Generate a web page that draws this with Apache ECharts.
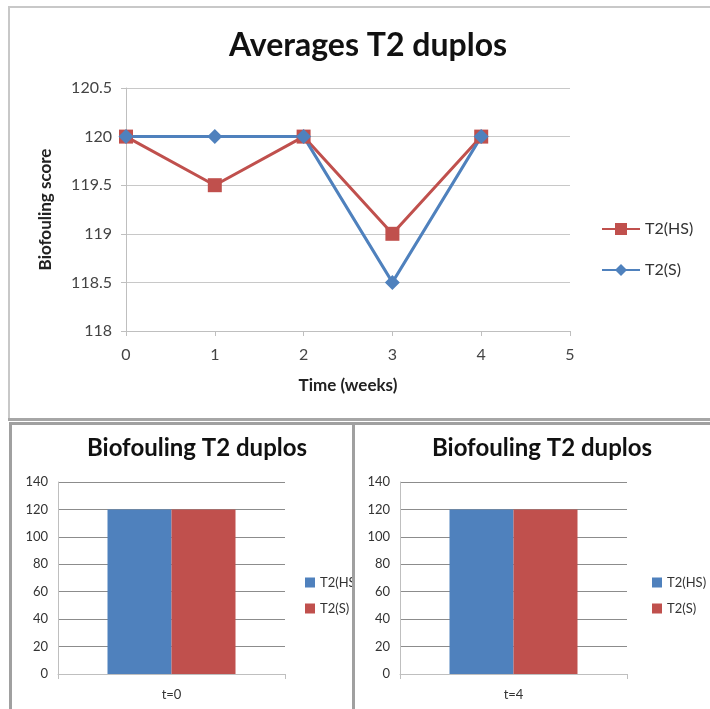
<!DOCTYPE html>
<html>
<head>
<meta charset="utf-8">
<script src="https://cdn.jsdelivr.net/npm/echarts@6/dist/echarts.min.js"></script>
<style>
  html, body { margin: 0; padding: 0; background: #ffffff; }
  body { width: 710px; height: 709px; position: relative; overflow: hidden; }
  .chart { position: absolute; overflow: hidden; }
  .rule { position: absolute; }
</style>
</head>
<body>
<!-- panel frames -->
<div class="rule" style="left:8px;top:6px;width:702px;height:2px;background:#c8c8c8"></div>
<div class="rule" style="left:8px;top:6px;width:2px;height:414px;background:#c8c8c8"></div>
<div class="rule" style="left:8px;top:418px;width:702px;height:3px;background:#a6a6a6"></div>
<div class="rule" style="left:9px;top:422px;width:701px;height:3px;background:#a0a0a0"></div>
<div class="rule" style="left:9px;top:422px;width:3px;height:287px;background:#a0a0a0"></div>
<div class="rule" style="left:352px;top:422px;width:3px;height:287px;background:#a0a0a0"></div>

<div id="top" class="chart" style="left:10px;top:8px;width:700px;height:410px"></div>
<div id="left" class="chart" style="left:12px;top:425px;width:340px;height:284px"></div>
<div id="right" class="chart" style="left:355px;top:425px;width:355px;height:284px"></div>

<script>
// Weekly averages of the biofouling score
const weeks = [0, 1, 2, 3, 4];
const avgHS = [120, 119.5, 120, 119, 120];
const avgS = [120, 120, 120, 118.5, 120];

// Snapshot scores per time point
const snapshot0 = { label: 't=0', hs: 120, s: 120 };
const snapshot4 = { label: 't=4', hs: 120, s: 120 };

const seriesNames = ['T2(HS)', 'T2(S)'];
const RED = '#c0504d';
const BLUE = '#4f81bd';
const FONT = 'Lato, "Liberation Sans", sans-serif';

const topChart = echarts.init(document.getElementById('top'));
topChart.setOption({
  animation: false,
  textStyle: { fontFamily: FONT },
  title: {
    text: 'Averages T2 duplos',
    left: 353, top: 17, textAlign: 'center',
    textStyle: { fontSize: 32, fontWeight: 'bold', color: '#111', fontFamily: FONT }
  },
  grid: { left: 116, top: 80, width: 444, height: 243 },
  legend: {
    orient: 'vertical', left: 586, top: 208, itemGap: 25,
    itemWidth: 38, itemHeight: 15,
    textStyle: { fontSize: 16, color: '#333', fontFamily: FONT },
    data: seriesNames
  },
  xAxis: {
    type: 'value', min: 0, max: 5, interval: 1,
    name: 'Time (weeks)', nameLocation: 'middle', nameGap: 46,
    nameTextStyle: { fontSize: 17, fontWeight: 'bold', color: '#222' },
    axisLine: { show: true, lineStyle: { color: '#bfbfbf', width: 1 } },
    axisTick: { show: true, length: 5, lineStyle: { color: '#bfbfbf' } },
    axisLabel: { fontSize: 16, color: '#444', margin: 16 },
    splitLine: { show: false }
  },
  yAxis: {
    type: 'value', min: 118, max: 120.5, interval: 0.5,
    name: 'Biofouling score', nameLocation: 'middle', nameGap: 72,
    nameTextStyle: { fontSize: 17, fontWeight: 'bold', color: '#222' },
    axisLine: { show: true, lineStyle: { color: '#bfbfbf', width: 1 } },
    axisTick: { show: true, length: 5, lineStyle: { color: '#bfbfbf' } },
    axisLabel: { fontSize: 16, color: '#444', margin: 14 },
    splitLine: { lineStyle: { color: '#c8c8c8', width: 1 } }
  },
  series: [
    {
      name: seriesNames[0], type: 'line',
      data: weeks.map((w, i) => [w, avgHS[i]]),
      symbol: 'rect', symbolSize: 14,
      lineStyle: { color: RED, width: 3 },
      itemStyle: { color: RED }
    },
    {
      name: seriesNames[1], type: 'line',
      data: weeks.map((w, i) => [w, avgS[i]]),
      symbol: 'diamond', symbolSize: 15,
      lineStyle: { color: BLUE, width: 3 },
      itemStyle: { color: BLUE }
    }
  ]
});

function barOption(snap, gridLeft, titleX, legendLeft) {
  return {
    animation: false,
    textStyle: { fontFamily: FONT },
    title: {
      text: 'Biofouling T2 duplos',
      left: titleX, top: 6, textAlign: 'center',
      textStyle: { fontSize: 24, fontWeight: 'bold', color: '#111', fontFamily: FONT }
    },
    grid: { left: gridLeft, top: 57, width: 227, height: 192 },
    legend: {
      orient: 'vertical', left: legendLeft, top: 146, itemGap: 13,
      itemWidth: 10, itemHeight: 10, icon: 'rect',
      textStyle: { fontSize: 13, color: '#333', fontFamily: FONT },
      data: seriesNames
    },
    xAxis: {
      type: 'category', data: [snap.label],
      axisLine: { lineStyle: { color: '#bfbfbf' } },
      axisTick: { show: true, length: 5, lineStyle: { color: '#bfbfbf' } },
      axisLabel: { fontSize: 13, color: '#333', margin: 14 }
    },
    yAxis: {
      type: 'value', min: 0, max: 140, interval: 20,
      axisLine: { show: true, lineStyle: { color: '#bfbfbf' } },
      axisTick: { show: false },
      axisLabel: { fontSize: 13, color: '#333', margin: 10 },
      splitLine: { lineStyle: { color: '#8c8c8c', width: 1 } }
    },
    series: [
      { name: seriesNames[0], type: 'bar', data: [snap.hs], barWidth: 64, barGap: '0%', itemStyle: { color: BLUE } },
      { name: seriesNames[1], type: 'bar', data: [snap.s], barWidth: 64, barGap: '0%', itemStyle: { color: RED } }
    ]
  };
}

echarts.init(document.getElementById('left')).setOption(barOption(snapshot0, 46, 180, 288));
echarts.init(document.getElementById('right')).setOption(barOption(snapshot4, 45, 182, 292));
</script>
</body>
</html>
